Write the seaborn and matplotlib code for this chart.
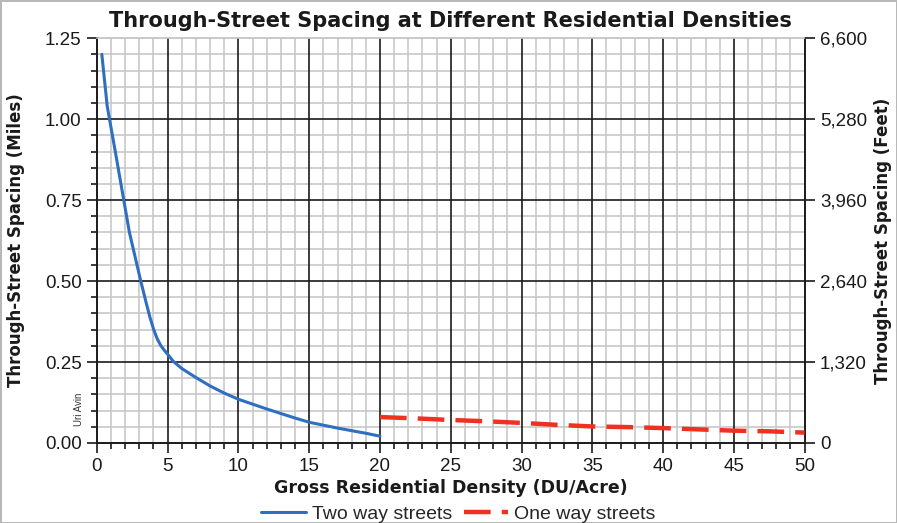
import matplotlib
matplotlib.use("Agg")
import matplotlib.pyplot as plt
from matplotlib.ticker import MultipleLocator, FixedLocator, FuncFormatter
from matplotlib.lines import Line2D
import seaborn as sns
import pandas as pd

# ---- data ----
two_way_x = [0.35, 0.73, 1.3, 1.9, 2.3, 3.1, 3.5, 3.75, 4.0, 4.25, 4.5, 4.75, 5.0, 5.4, 6.0,
             7.0, 8.0, 9.0, 10.0, 11.0, 12.0, 13.0, 14.0, 15.0, 16.0, 17.0, 18.0, 19.0, 20.0]
two_way_y = [1.20, 1.04, 0.90, 0.75, 0.65, 0.50, 0.43, 0.388, 0.352, 0.323, 0.302, 0.287, 0.274, 0.252, 0.230,
             0.202, 0.176, 0.154, 0.135, 0.12, 0.105, 0.091, 0.077, 0.064, 0.055, 0.046, 0.038, 0.030, 0.021]
one_way_x = [20, 22.5, 25, 27.5, 30, 32.5, 35, 37.5, 40, 42.5, 45, 47.5, 50]
one_way_y = [0.080, 0.076, 0.071, 0.067, 0.062, 0.056, 0.051, 0.049, 0.046, 0.042, 0.038, 0.036, 0.032]

x_major = [0, 5, 10, 15, 20, 25, 30, 35, 40, 45, 50]
y_major = [0.0, 0.25, 0.50, 0.75, 1.00, 1.25]
feet_ticks = [0, 1320, 2640, 3960, 5280, 6600]

title = "Through-Street Spacing at Different Residential Densities"
xlabel = "Gross Residential Density (DU/Acre)"
ylabel_left = "Through-Street Spacing (Miles)"
ylabel_right = "Through-Street Spacing (Feet)"
series_names = ["Two way streets", "One way streets"]

blue = "#2e6fc0"
red = "#f03020"
ink = "#1a1a1a"

sns.set_theme(style="white")
plt.rcParams["font.family"] = ["Liberation Sans", "DejaVu Sans"]
bold_family = ["DejaVu Sans"]

fig = plt.figure(figsize=(8.97, 5.23), dpi=100)
fig.patch.set_edgecolor("#b8b8b8")
fig.patch.set_linewidth(2)
ax = fig.add_axes([0.108, 0.153, 0.789, 0.774])

df_two = pd.DataFrame({"x": two_way_x, "y": two_way_y})
df_one = pd.DataFrame({"x": one_way_x, "y": one_way_y})
sns.lineplot(data=df_two, x="x", y="y", ax=ax, color=blue, linewidth=2.2, sort=False, zorder=5)
sns.lineplot(data=df_one, x="x", y="y", ax=ax, color=red, linewidth=3.2, sort=False, zorder=5)
ax.lines[-1].set_dashes((6, 2.5))

ax.set_xlim(0, 50)
ax.set_ylim(0, 1.25)
ax.xaxis.set_major_locator(FixedLocator(x_major))
ax.xaxis.set_minor_locator(MultipleLocator(1))
ax.yaxis.set_major_locator(FixedLocator(y_major))
ax.yaxis.set_minor_locator(MultipleLocator(0.05))
ax.yaxis.set_major_formatter(FuncFormatter(lambda v, p: f"{v:.2f}"))
ax.xaxis.set_major_formatter(FuncFormatter(lambda v, p: f"{v:.0f}"))

ax.set_axisbelow(True)
ax.grid(which="minor", color="#c8c8c8", linewidth=1.2)
ax.grid(which="major", visible=False)
for xv in x_major[1:-1]:
    ax.axvline(xv, color=ink, linewidth=1.2, zorder=1)
for yv in y_major[1:-1]:
    ax.axhline(yv, color=ink, linewidth=1.2, zorder=1)

ax.tick_params(which="major", direction="out", length=7, width=1.2, color=ink,
               labelsize=13.5, labelcolor=ink, bottom=True, left=True, pad=4)
ax.tick_params(which="minor", direction="out", length=4, width=1.2, color=ink,
               bottom=True, left=True)

for s in ["left", "bottom", "right"]:
    ax.spines[s].set_color(ink)
    ax.spines[s].set_linewidth(1.4)
ax.spines["top"].set_color("#c0c0c0")
ax.spines["top"].set_linewidth(1.2)

ax.set_xlabel(xlabel, fontsize=12.5, fontweight="bold", color=ink, labelpad=3, family=bold_family)
ax.set_ylabel(ylabel_left, fontsize=12, fontweight="bold", color=ink, labelpad=14, family=bold_family)
ax.set_title(title, fontsize=15, fontweight="bold", color=ink, pad=8, family=bold_family)

ax2 = ax.twinx()
ax2.set_ylim(0, 6600)
ax2.yaxis.set_major_locator(FixedLocator(feet_ticks))
ax2.yaxis.set_major_formatter(FuncFormatter(lambda v, p: f"{v:,.0f}"))
ax2.tick_params(which="major", direction="out", length=7, width=1.2, color=ink,
                labelsize=13.5, labelcolor=ink, right=True, pad=4)
ax2.grid(False)
for s in ax2.spines.values():
    s.set_visible(False)
ax2.set_ylabel(ylabel_right, fontsize=12, fontweight="bold", color=ink, labelpad=5, family=bold_family)

ax.text(-0.9, 0.105, "Uri Avin", rotation=90, fontsize=7, color="#333333",
        ha="right", va="center")

handles = [Line2D([0], [0], color=blue, linewidth=2.2),
           Line2D([0], [0], color=red, linewidth=3.2, dashes=(6, 2.5))]
fig.legend(handles, series_names, loc="center", bbox_to_anchor=(0.511, 0.017), ncol=2,
           frameon=False, fontsize=14, handlelength=2.3, handletextpad=0.3, columnspacing=0.6,
           borderaxespad=0)

fig.savefig("out.png", dpi=100)
